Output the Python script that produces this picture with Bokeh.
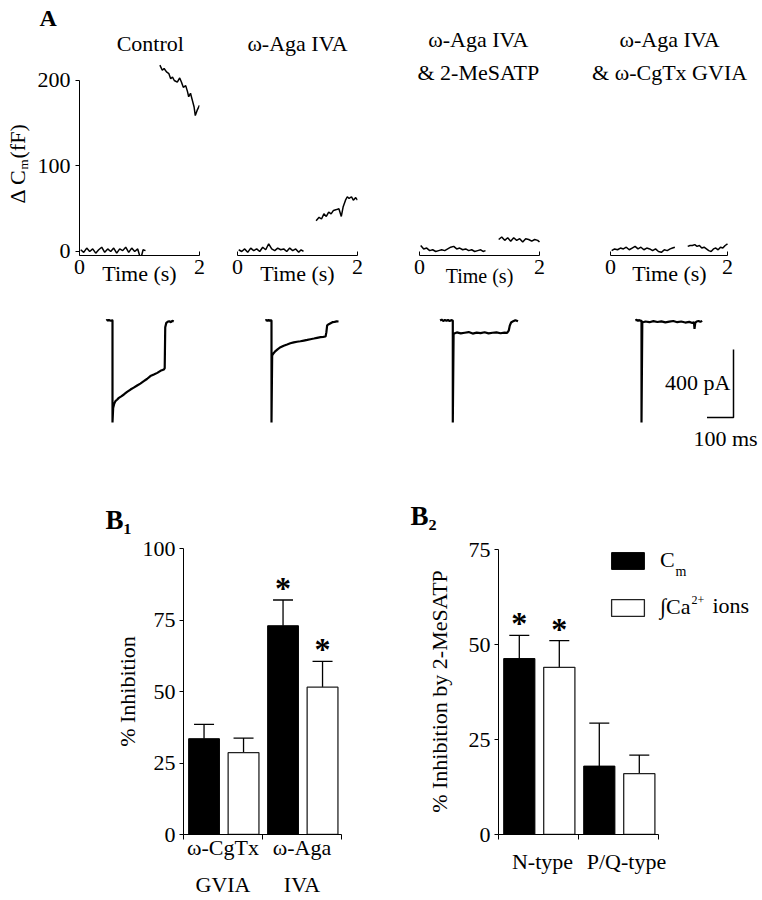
import math
from bokeh.plotting import figure
from bokeh.layouts import row, column
from bokeh.models import (Label, FixedTicker, Whisker, TeeHead, ColumnDataSource,
                          Legend, LegendItem, LinearAxis)
from bokeh.core.properties import value
from bokeh.embed import file_html
from bokeh.resources import INLINE

FONT = "Liberation Serif"
FS = "22px"

# ============================ DATA ============================
# Panel A, top row: change in membrane capacitance (fF) vs time (s)
cm_titles = [["Control"], ["ω-Aga IVA"], ["ω-Aga IVA", "& 2-MeSATP"],
             ["ω-Aga IVA", "& ω-CgTx GVIA"]]
cm_x_ticks = [0, 2]
cm_y_ticks = [0, 100, 200]
cm_ylabel_parts = ["Δ C", "m", "(fF)"]

pre_t = [0.02, 0.07, 0.12, 0.17, 0.22, 0.27, 0.32, 0.37, 0.42, 0.47, 0.52, 0.57,
         0.62, 0.67, 0.72, 0.77, 0.82, 0.87, 0.92, 0.97, 1.02, 1.06, 1.10]
control_pre = [2, -1, 4, 0, 3, -2, 2, 5, -1, 3, 0, 4, -2, 3, 1, 5, -1, 4, 0, 3, -9, 2, 1]
aga_pre = [2, 0, 3, -1, 4, 1, 3, 0, 5, 2, 9, 3, 1, 4, 2, 3, 0, 4, 1, 3, -1, 2, 0]
mesatp_pre = [7, 3, 4, 1, 2, 0, 1, 2, 1, 3, 5, 6, 3, 4, 2, 3, 1, 2, 0, 1, 2, 0, 1]
cgtx_pre = [1, 3, 2, 4, 3, 5, 2, 4, 6, 3, 5, 2, 4, 3, 1, 3, 0, -1, 2, 1, 3, 4, 5]

control_post_t = [1.34, 1.38, 1.41, 1.45, 1.49, 1.52, 1.55, 1.58, 1.63, 1.67, 1.70,
                  1.73, 1.77, 1.80, 1.82, 1.85, 1.88, 1.91, 1.93, 1.96, 2.00]
control_post = [218, 212, 214, 210, 208, 202, 204, 200, 198, 203, 198,
                192, 194, 187, 181, 185, 177, 169, 159, 165, 171]
aga_post_t = [1.31, 1.36, 1.40, 1.44, 1.48, 1.52, 1.56, 1.60, 1.65, 1.69,
              1.73, 1.76, 1.80, 1.83, 1.86, 1.90, 1.93, 1.97, 2.00]
aga_post = [36, 40, 38, 44, 41, 46, 44, 48, 49, 50, 41, 52, 60, 64, 62, 64, 60, 63, 60]
mesatp_post_t = [1.32, 1.37, 1.42, 1.47, 1.52, 1.57, 1.62, 1.67, 1.72, 1.77,
                 1.82, 1.87, 1.92, 1.97, 2.00]
mesatp_post = [14, 17, 13, 16, 12, 16, 13, 15, 11, 15, 14, 12, 14, 13, 11]
cgtx_post_t = [1.32, 1.36, 1.40, 1.44, 1.48, 1.52, 1.56, 1.60, 1.64, 1.68,
               1.72, 1.76, 1.80, 1.84, 1.88, 1.92, 1.96, 2.00]
cgtx_post = [6, 7, 7, 8, 6, 7, 4, 5, 3, 1, 0, 3, 4, 2, 5, 4, 7, 9]

cm_pre = [control_pre, aga_pre, mesatp_pre, cgtx_pre]
cm_post_t = [control_post_t, aga_post_t, mesatp_post_t, cgtx_post_t]
cm_post = [control_post, aga_post, mesatp_post, cgtx_post]

# Panel A, second row: Ca2+ currents (pA) vs time (ms)
control_i_t = [-23, -20, -17, -14, -11, -8, -5, -2, 0, 0, 2.5, 6, 11, 17, 24, 33, 43, 55,
               68, 80, 93, 105, 118, 130, 143, 156, 169, 181, 194, 197, 199, 203, 208,
               214, 220, 226, 231]
control_i = [0, 4, -3, 5, -2, 3, -4, 2, 0, -600, -514, -492, -474, -466, -455, -446,
             -435, -420, -406, -395, -382, -371, -357, -344, -327, -318, -308, -296,
             -288, -280, -40, -14, -8, -4, -10, -2, -6]
aga_i_t = [-23, -19, -15, -11, -7, -3, 0, 0, 2.5, 8, 15, 24, 34, 46, 59, 71, 84, 96,
           109, 122, 135, 147, 160, 172, 185, 195, 204, 207, 210, 216, 223, 230, 238,
           246, 253]
aga_i = [0, 3, -2, 4, -3, 2, 0, -600, -206, -192, -180, -168, -157, -148, -141, -134,
         -129, -125, -122, -118, -114, -110, -106, -102, -98, -96, -94, -70, -29, -22,
         -16, -10, -8, -5, -6]
mesatp_i_t = [-48, -42, -36, -30, -24, -18, -12, -6, 0, 0, 3, 15, 30, 45, 60, 75, 90,
              105, 120, 135, 150, 165, 180, 195, 205, 211, 215, 220, 228, 236, 246]
mesatp_i = [0, 5, -3, 4, -2, 3, -4, 2, 0, -600, -78, -70, -76, -72, -68, -77, -71, -74,
            -69, -76, -72, -70, -75, -71, -73, -60, -30, -12, -4, 2, -5]
cgtx_i_t = [-23, -18, -13, -8, -4, 0, 0, 3, 15, 30, 45, 60, 75, 90, 105, 120, 135, 150,
            165, 180, 192, 198, 200, 203, 208, 215, 222, 229]
cgtx_i = [0, 4, -2, 3, -3, 0, -600, -12, -6, -10, -4, -9, -5, -11, -7, -3, -10, -6,
          -12, -8, -15, -10, -49, -12, -6, -3, -8, -2]
cur_t = [control_i_t, aga_i_t, mesatp_i_t, cgtx_i_t]
cur_i = [control_i, aga_i, mesatp_i, cgtx_i]
scale_pa = 400
scale_ms = 100

# Panel B1: % inhibition by toxins
b1_labels_top = ["ω-CgTx", "ω-Aga"]
b1_labels_bottom = ["GVIA", "IVA"]
b1_cm = [33.5, 73.0]
b1_cm_err = [5.0, 9.0]
b1_ca = [28.6, 51.5]
b1_ca_err = [5.1, 9.0]
b1_cm_sig = [False, True]
b1_ca_sig = [False, True]
b1_y_ticks = [0, 25, 50, 75, 100]

# Panel B2: % inhibition by 2-MeSATP
b2_labels = ["N-type", "P/Q-type"]
b2_cm = [46.3, 18.0]
b2_cm_err = [6.1, 11.3]
b2_ca = [44.0, 16.0]
b2_ca_err = [7.0, 4.9]
b2_cm_sig = [True, False]
b2_ca_sig = [True, False]
b2_y_ticks = [0, 25, 50, 75]
legend_main = ["C", "∫Ca"]
legend_sub = "m"
legend_sup = "2+"
legend_tail = "ions"


# ============================ STYLE HELPERS ============================
def style_common(p):
    p.grid.visible = False
    p.outline_line_color = None
    p.background_fill_color = "white"
    p.border_fill_color = "white"


def style_axis(ax, fs=FS):
    ax.axis_line_color = "black"
    ax.axis_line_width = 1
    ax.major_tick_line_color = "black"
    ax.major_tick_line_width = 1
    ax.minor_tick_line_color = None
    ax.major_label_text_font = FONT
    ax.major_label_text_font_size = fs
    ax.major_label_text_color = "black"
    ax.axis_label_text_font = FONT
    ax.axis_label_text_font_size = fs
    ax.axis_label_text_font_style = "normal"
    ax.axis_label_text_color = "black"


def style_title(t, text, offset, standoff, size):
    t.text = text
    t.align = "left"
    t.offset = offset
    t.standoff = standoff
    t.text_font = FONT
    t.text_font_size = size
    t.text_font_style = "bold"
    t.text_color = "black"


def txt(x, y, text, size=FS, align="left", baseline="middle", angle=0.0, style="normal"):
    return Label(x=x, y=y, text=text, text_align=align, text_baseline=baseline,
                 angle=angle, text_font=FONT, text_font_size=size,
                 text_font_style=style, text_color="black")


# ============================ PANEL A: Cm ============================
A_H, A_MBT, A_MBB = 300, 30, 45
# narrow strip holding the rotated y-axis title of the first Cm panel
# (its frame is aligned with the neighbouring frames; data y = 300 - page y)
a0 = figure(width=30, height=A_H, x_range=(0, 30), y_range=(A_MBB, A_H - A_MBT),
            output_backend="svg", toolbar_location=None,
            x_axis_location=None, y_axis_location=None,
            min_border_left=0, min_border_right=0,
            min_border_top=A_MBT, min_border_bottom=A_MBB)
style_common(a0)
a0.add_layout(txt(16.5, A_H - 203, cm_ylabel_parts[0], angle=math.pi / 2))
a0.add_layout(txt(22.5, A_H - 169, cm_ylabel_parts[1], size="13px", angle=math.pi / 2))
a0.add_layout(txt(16.5, A_H - 158, cm_ylabel_parts[2], angle=math.pi / 2))

A_LEFT = [30, 218, 400, 580]
A_W = [188, 182, 180, 182]
A_AXIS = [(79, 199), (237, 357), (419, 539), (610, 727)]   # page x of t=0 and t=2
A_FRAME = [(79, 199), (237, 357), (409, 549), (585, 753)]  # page x of frame edges
A_FRAME_BOTTOM = A_H - A_MBB
CM_PX = 0.855                       # px per fF
CM_LO = -4.7
CM_HI = CM_LO + (A_H - A_MBT - A_MBB) / CM_PX


def cm_y(page_y):
    return CM_LO + (A_FRAME_BOTTOM - page_y) / CM_PX


title_x = [1.18, 1.0, 0.98, 1.01]
title_y = {1: [cm_y(42.5)], 2: [cm_y(39), cm_y(72)]}

a_figs = [a0]
for i in range(4):
    ax0, ax1 = A_AXIS[i]
    f0, f1 = A_FRAME[i]
    sc = 2.0 / (ax1 - ax0)
    xr = ((f0 - ax0) * sc, (f1 - ax0) * sc)
    p = figure(width=A_W[i], height=A_H, x_range=xr, y_range=(CM_LO, CM_HI),
               output_backend="svg", toolbar_location=None,
               y_axis_location="left" if i == 0 else None,
               min_border_left=f0 - A_LEFT[i],
               min_border_right=A_LEFT[i] + A_W[i] - f1,
               min_border_top=A_MBT, min_border_bottom=A_MBB)
    style_common(p)
    xa = p.xaxis[0]
    style_axis(xa, "20px" if i == 2 else FS)
    xa.major_label_text_font_size = FS
    xa.ticker = FixedTicker(ticks=cm_x_ticks)
    xa.bounds = (0, 2)
    xa.major_tick_in = 4
    xa.major_tick_out = 0
    xa.major_label_standoff = 4
    xa.axis_label = "Time (s)"
    xa.axis_label_standoff = -12 if i == 2 else -16
    if i == 0:
        ya = p.yaxis[0]
        style_axis(ya)
        ya.ticker = FixedTicker(ticks=cm_y_ticks)
        ya.bounds = (CM_LO, 200)
        ya.major_tick_out = 4
        ya.major_tick_in = 0
        ya.major_label_standoff = 5
        style_title(p.title, "A", -40, 0, "24px")
    lines = cm_titles[i]
    for j, line in enumerate(lines):
        p.add_layout(txt(title_x[i], title_y[len(lines)][j], line, align="center"))
    p.line(pre_t, cm_pre[i], line_color="black", line_width=1.5)
    p.line(cm_post_t[i], cm_post[i], line_color="black", line_width=1.5)
    a_figs.append(p)

# ============================ PANEL A: currents ============================
C_W = [218, 182, 180, 182]
C_LEFT = [0, 218, 400, 580]
C_T0 = [112, 271, 452.3, 641]      # page x of pulse onset
PX_PER_MS = 0.265
PA_PER_PX = 5.88
C_TOP, C_H, C_BASE = 300, 160, 320

c_figs = []
for i in range(4):
    start = (C_LEFT[i] - C_T0[i]) / PX_PER_MS
    end = start + C_W[i] / PX_PER_MS
    p = figure(width=C_W[i], height=C_H, x_range=(start, end),
               y_range=(-(C_TOP + C_H - C_BASE) * PA_PER_PX, (C_BASE - C_TOP) * PA_PER_PX),
               output_backend="svg", toolbar_location=None,
               x_axis_location=None, y_axis_location=None, min_border=0)
    style_common(p)
    p.line(cur_t[i], cur_i[i], line_color="black", line_width=2.2)
    if i == 3:
        sb_x = (733 - C_T0[3]) / PX_PER_MS
        sb_y = -(417 - C_BASE) * PA_PER_PX
        p.line([sb_x - scale_ms, sb_x, sb_x], [sb_y, sb_y, sb_y + scale_pa],
               line_color="black", line_width=1.5)
        p.add_layout(txt(sb_x - 3 / PX_PER_MS, -(382 - C_BASE) * PA_PER_PX,
                         f"{scale_pa} pA", align="right"))
        p.add_layout(txt((725 - C_T0[3]) / PX_PER_MS, -(438 - C_BASE) * PA_PER_PX,
                         f"{scale_ms} ms", align="center"))
    c_figs.append(p)


# ============================ PANEL B ============================
B_H, B_MBT, B_MBB = 440, 88, 66
B_FH = B_H - B_MBT - B_MBB
BAR_W = 0.39


def bar_panel(width, mbl, fw, px_per_unit, px_per_pct, ybound, yticks, cm,
              cm_err, ca, ca_err, cm_sig, ca_sig, xlabels, xlabel_pos, xlabel_standoff,
              ylabel, ylabel_standoff):
    p = figure(width=width, height=B_H, x_range=(0, fw / px_per_unit),
               y_range=(0, B_FH / px_per_pct), output_backend="svg",
               toolbar_location=None,
               min_border_left=mbl, min_border_right=width - mbl - fw,
               min_border_top=B_MBT, min_border_bottom=B_MBB)
    style_common(p)
    xs_cm = [g + 0.26 for g in range(len(cm))]
    xs_ca = [g + 0.76 for g in range(len(ca))]
    r_cm = p.vbar(x=xs_cm, top=cm, width=BAR_W, fill_color="black",
                  line_color="black", line_width=1)
    r_ca = p.vbar(x=xs_ca, top=ca, width=BAR_W, fill_color="white",
                  line_color="#222222", line_width=1.3)
    for xs, m, e in ((xs_cm, cm, cm_err), (xs_ca, ca, ca_err)):
        src = ColumnDataSource(dict(x=xs, lower=m, upper=[a + b for a, b in zip(m, e)]))
        p.add_layout(Whisker(source=src, base="x", lower="lower", upper="upper",
                             dimension="height", line_color="black", line_width=1.3,
                             upper_head=TeeHead(size=20, line_color="black",
                                                line_width=1.3),
                             lower_head=None))
    sx, sy = [], []
    for xs, m, e, sig in ((xs_cm, cm, cm_err, cm_sig), (xs_ca, ca, ca_err, ca_sig)):
        for x, a, b, s in zip(xs, m, e, sig):
            if s:
                sx.append(x)
                sy.append(a + b)
    p.text(x=sx, y=sy, text=["*"] * len(sx), text_font=value(FONT),
           text_font_size="32px", text_font_style="bold", text_align="center",
           text_baseline="alphabetic", text_color="black", y_offset=-12)

    xa = p.xaxis[0]
    style_axis(xa)
    xa.ticker = FixedTicker(ticks=xlabel_pos, minor_ticks=[0, 1, 2])
    xa.bounds = (0, 2)
    xa.major_label_overrides = {xlabel_pos[0]: xlabels[0], xlabel_pos[1]: xlabels[1]}
    xa.major_tick_line_color = None
    xa.major_tick_out = 0
    xa.major_tick_in = 0
    xa.minor_tick_line_color = "black"
    xa.minor_tick_out = 5
    xa.minor_tick_in = 0
    xa.major_label_standoff = xlabel_standoff

    ya = p.yaxis[0]
    style_axis(ya)
    ya.ticker = FixedTicker(ticks=yticks)
    ya.bounds = (0, ybound)
    ya.major_tick_out = 4
    ya.major_tick_in = 0
    ya.major_label_standoff = 4
    ya.axis_label = ylabel
    ya.axis_label_standoff = ylabel_standoff
    return p, r_cm, r_ca


b1, _, _ = bar_panel(390, 183, 158, 79, 2.86, 100, b1_y_ticks, b1_cm, b1_cm_err,
                     b1_ca, b1_ca_err, b1_cm_sig, b1_ca_sig, b1_labels_top, [0.5, 1.5],
                     -5, "% Inhibition", 0)
ax2 = LinearAxis(ticker=FixedTicker(ticks=[0.5, 1.5]),
                 major_label_overrides={0.5: b1_labels_bottom[0], 1.5: b1_labels_bottom[1]})
style_axis(ax2)
ax2.axis_line_color = None
ax2.major_tick_line_color = None
ax2.major_tick_out = 0
ax2.major_tick_in = 0
ax2.major_label_standoff = 9
b1.add_layout(ax2, "below")
style_title(b1.title, "B₁", -78, 28, "27px")

B2_PX_X, B2_PX_Y = 80, 3.8
b2, r_cm2, r_ca2 = bar_panel(372, 108, 260, B2_PX_X, B2_PX_Y, 75, b2_y_ticks,
                             b2_cm, b2_cm_err, b2_ca, b2_ca_err, b2_cm_sig, b2_ca_sig,
                             b2_labels, [0.55, 1.6], 9, "% Inhibition by 2-MeSATP", 14)
style_title(b2.title, "B₂", -88, 36, "27px")

B2_FRAME_BOTTOM = B_H - B_MBB + 460
legend = Legend(items=[LegendItem(label=legend_main[0], renderers=[r_cm2]),
                       LegendItem(label=legend_main[1], renderers=[r_ca2])],
                location=(607 - 498, B2_FRAME_BOTTOM - 620), orientation="vertical",
                glyph_width=41, glyph_height=21, spacing=21, label_standoff=12,
                padding=0, margin=0, border_line_color=None,
                background_fill_alpha=0, label_text_font=FONT,
                label_text_font_size=FS, label_text_color="black",
                label_text_baseline="alphabetic")
b2.add_layout(legend)


def b2x(px):
    return (px - 498) / B2_PX_X


def b2y(py):
    return (B2_FRAME_BOTTOM - py) / B2_PX_Y


b2.add_layout(txt(b2x(675), b2y(571), legend_sub, size="14px"))
b2.add_layout(txt(b2x(691), b2y(599), legend_sup, size="12px"))
b2.add_layout(txt(b2x(712), b2y(605), legend_tail))

layout = column(row(*a_figs), row(*c_figs), row(b1, b2))
open("out.html", "w").write(file_html(layout, INLINE, title="Figure"))
